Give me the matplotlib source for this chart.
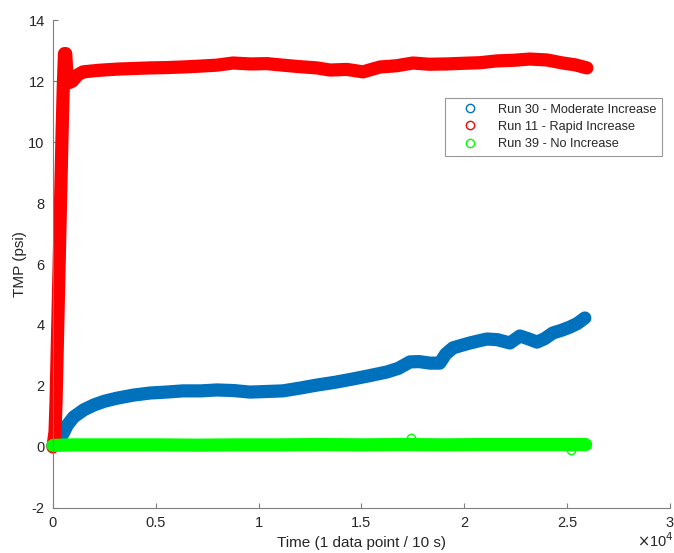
import matplotlib
matplotlib.use("Agg")
import matplotlib.pyplot as plt

plt.rcParams['font.family'] = ['Liberation Sans', 'DejaVu Sans']
plt.rcParams['axes.unicode_minus'] = False

# ---- data ----
blue_t = [0, 150, 300, 500, 700, 1000, 1500, 2000, 2500, 3110, 3900, 4720, 5500, 6320,
          7200, 7970, 8800, 9580, 10400, 11180, 12000, 12830, 13700, 14580, 15400,
          16240, 16800, 17360, 17800, 18330, 18810, 19100, 19450, 19850, 20270, 20700,
          21100, 21600, 22220, 22700, 23100, 23530, 23900, 24310, 24700, 25130, 25500,
          25860]
blue_v = [0.05, 0.12, 0.22, 0.45, 0.72, 0.98, 1.22, 1.38, 1.50, 1.60, 1.70, 1.77, 1.80, 1.84,
          1.84, 1.87, 1.85, 1.80, 1.82, 1.84, 1.93, 2.03, 2.12, 2.23, 2.34,
          2.46, 2.58, 2.79, 2.80, 2.75, 2.75, 3.05, 3.25, 3.33, 3.41, 3.48,
          3.54, 3.52, 3.41, 3.64, 3.55, 3.44, 3.55, 3.74, 3.82, 3.93, 4.05,
          4.23]

red_t = [0, 100, 150, 200, 250, 300, 350, 400, 450, 500, 560, 620, 680, 800, 950,
         1200, 1460, 2200, 3110, 3900, 4720, 5500, 6320, 7200, 7970, 8750, 9600, 10400,
         11180, 12000, 12830, 13470, 14300, 15070, 15900, 16700, 17500, 18300, 19150,
         19900, 20760, 21590, 22400, 23190, 24020, 24790, 25400, 25960]
red_v = [0.0, 0.5, 1.5, 3.0, 4.5, 6.0, 7.5, 9.0, 10.5, 11.8, 12.9, 12.9, 12.2, 11.95, 12.0,
         12.2, 12.3, 12.35, 12.39, 12.41, 12.43, 12.44, 12.46, 12.49, 12.52, 12.59, 12.56,
         12.57, 12.52, 12.47, 12.43, 12.36, 12.38, 12.30, 12.46, 12.50, 12.59, 12.55,
         12.56, 12.58, 12.60, 12.66, 12.68, 12.72, 12.69, 12.59, 12.53, 12.43]

green_t = [0, 1000, 3000, 5000, 7000, 9000, 11000, 13000, 15000, 17000, 19000,
           21000, 23000, 25000, 25900]
green_v = [0.05, 0.07, 0.07, 0.07, 0.06, 0.07, 0.07, 0.08, 0.07, 0.08, 0.07,
           0.08, 0.08, 0.08, 0.08]
green_out_t = [17400, 25200]
green_out_v = [0.28, -0.10]

labels = ['Run 30 - Moderate Increase', 'Run 11 - Rapid Increase', 'Run 39 - No Increase']
colors = ['#0072BD', '#FF0000', '#00FF00']

xticks = [0, 5000, 10000, 15000, 20000, 25000, 30000]
xticklabels = ['0', '0.5', '1', '1.5', '2', '2.5', '3']
yticks = [-2, 0, 2, 4, 6, 8, 10, 12, 14]

# ---- figure ----
fig = plt.figure(figsize=(6.74, 5.53), dpi=100)
ax = fig.add_axes([0.0786, 0.0814, 0.9154, 0.8824])

series = [(blue_t, blue_v), (red_t, red_v), (green_t, green_v)]
handles = []
for (t, v), c, lab in zip(series, colors, labels):
    ax.plot(t, v, color=c, lw=9.5, solid_capstyle='round', solid_joinstyle='round',
            clip_on=False)
    h, = ax.plot(t, v, linestyle='none', marker='o', markersize=6,
                 markerfacecolor='none', markeredgecolor=c, markeredgewidth=1.0,
                 label=lab, clip_on=False)
    handles.append(h)
ax.plot(green_out_t, green_out_v, linestyle='none', marker='o', markersize=6,
        markerfacecolor='none', markeredgecolor=colors[2], markeredgewidth=1.0,
        clip_on=False)

ax.set_xlim(0, 30000)
ax.set_ylim(-2, 14)
ax.set_xticks(xticks)
ax.set_xticklabels(xticklabels)
ax.set_yticks(yticks)

for s in ['top', 'right']:
    ax.spines[s].set_visible(False)
for s in ['left', 'bottom']:
    ax.spines[s].set_color('#7f7f7f')
    ax.spines[s].set_linewidth(0.8)
ax.tick_params(direction='in', length=3.5, width=0.8, color='#7f7f7f',
               labelcolor='#262626', labelsize=10.5)
ax.tick_params(axis='x', pad=6)
ax.tick_params(axis='y', pad=6)

ax.set_xlabel('Time (1 data point / 10 s)', fontsize=11, color='#262626', labelpad=4)
ax.set_ylabel('TMP (psi)', fontsize=11, color='#262626', labelpad=1)

fig.text(0.945, 0.005, r'$\times$10$^{4}$', fontsize=10.5, color='#262626',
         ha='left', va='bottom')

leg = ax.legend(handles=handles, loc='upper left', bbox_to_anchor=(0.635, 0.840),
                fontsize=9.2, frameon=True, fancybox=False, borderpad=0.45,
                handletextpad=0.68, handlelength=3.0, labelspacing=0.4,
                borderaxespad=0)
leg.get_frame().set_edgecolor('#7f7f7f')
leg.get_frame().set_linewidth(0.8)
for txt in leg.get_texts():
    txt.set_color('#262626')

fig.savefig('out.png', dpi=100)
